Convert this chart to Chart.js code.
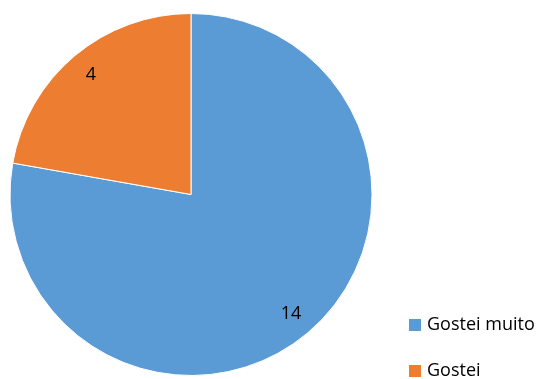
<!DOCTYPE html>
<html>
<head>
<meta charset="utf-8">
<script src="https://cdn.jsdelivr.net/npm/chart.js@4.4.1/dist/chart.umd.min.js"></script>
<style>
    html, body { margin: 0; padding: 0; background: #fff; }
    #wrap { position: relative; width: 539px; height: 379px; }
</style>
</head>
<body>
<div id="wrap"><canvas id="pieChart" width="539" height="379"></canvas></div>
<script>
const labels = ['Gostei muito', 'Gostei'];
const counts = [14, 4];
const colors = ['#5B9BD5', '#ED7D31'];

const FONT = '"Open Sans", "Noto Sans", sans-serif';

// values written inside each slice, part way out along its middle angle
const sliceValues = {
    id: 'sliceValues',
    afterDatasetsDraw(chart) {
        const ctx = chart.ctx;
        const meta = chart.getDatasetMeta(0);
        ctx.save();
        ctx.font = '18px ' + FONT;
        ctx.fillStyle = '#000';
        ctx.textAlign = 'center';
        ctx.textBaseline = 'middle';
        meta.data.forEach((arc, i) => {
            const p = arc.getProps(['x', 'y', 'startAngle', 'endAngle', 'outerRadius'], true);
            const mid = (p.startAngle + p.endAngle) / 2;
            const r = p.outerRadius * 0.86;
            ctx.fillText(String(counts[i]), p.x + Math.cos(mid) * r, p.y + Math.sin(mid) * r);
        });
        ctx.restore();
    }
};

// legend sits in the lower right corner, square swatch + label
const cornerLegend = {
    id: 'cornerLegend',
    afterDraw(chart) {
        const ctx = chart.ctx;
        const x = 409, box = 12;
        let y = 325;
        ctx.save();
        ctx.font = '18px ' + FONT;
        ctx.textBaseline = 'middle';
        labels.forEach((lbl, i) => {
            ctx.fillStyle = colors[i];
            ctx.fillRect(x, y - box / 2, box, box);
            ctx.fillStyle = '#000';
            ctx.fillText(lbl, x + box + 6, y);
            y += 46;
        });
        ctx.restore();
    }
};

new Chart(document.getElementById('pieChart').getContext('2d'), {
    type: 'pie',
    data: {
        labels: labels,
        datasets: [{
            data: counts,
            backgroundColor: colors,
            borderColor: '#ffffff',
            borderWidth: 1,
            hoverOffset: 0
        }]
    },
    options: {
        responsive: false,
        animation: false,
        layout: { padding: { top: 13, bottom: 3, left: -2, right: 157 } },
        plugins: {
            legend: { display: false },
            tooltip: { enabled: false }
        }
    },
    plugins: [sliceValues, cornerLegend]
});
</script>
</body>
</html>
